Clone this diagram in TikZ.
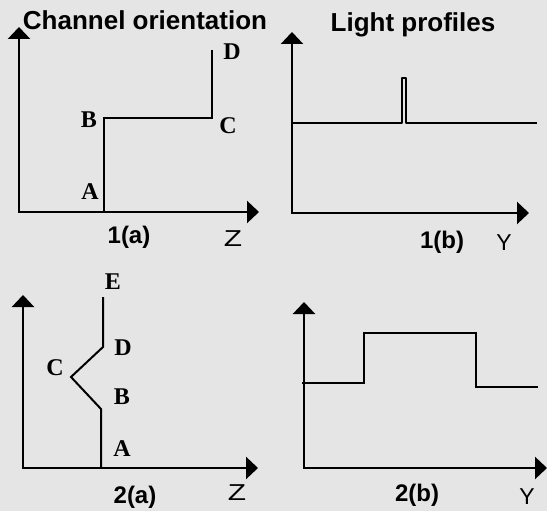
\documentclass[tikz,border=0pt]{standalone}
\usepackage{fontspec}
\setmainfont{Liberation Serif}
\setsansfont{Liberation Sans}
\usetikzlibrary{arrows.meta}

\begin{document}
\begin{tikzpicture}[x=1pt,y=-1pt,
  axis/.style={line width=2.6pt,line cap=rect,-{Triangle[length=12pt,width=22pt]}},
  trace/.style={line width=2pt},
  title/.style={font=\sffamily\bfseries\fontsize{26}{26}\selectfont,inner sep=0pt},
  tag/.style={font=\sffamily\bfseries\fontsize{24}{24}\selectfont,inner sep=0pt},
  axlab/.style={font=\sffamily\fontsize{23}{23}\selectfont,inner sep=0pt},
  pt/.style={font=\rmfamily\bfseries\fontsize{24}{24}\selectfont,inner sep=0pt}]
  \fill[black!10] (0,0) rectangle (547,511);
  \useasboundingbox (0,0) rectangle (547,511);
  % 1(a): channel orientation, straight then offset
  \coordinate (o1a) at (19,212);
  \coordinate (v1a) at (19,27);
  \coordinate (h1a) at (259,212);
  \draw[axis] (o1a) -- (v1a);
  \draw[axis] (o1a) -- (h1a);
  \draw[trace] (104,212) -- (104,118) -- (212,118) -- (212,50);
  \foreach \p/\x/\y in {A/90/192,B/89/120,C/228/126,D/232/52}
    \node[pt] (a1\p) at (\x,\y) {\p};
  \node[title] (t1a) at (145,20) {Channel orientation};
  \node[tag] (n1a) at (129,237) {1(a)};
  \node[axlab,xscale=1.3] (z1a) at (233,239) {Z};
  % 1(b): flat profile with one narrow peak
  \coordinate (o1b) at (292,213);
  \coordinate (v1b) at (292,32);
  \coordinate (h1b) at (529,213);
  \draw[axis] (o1b) -- (v1b);
  \draw[axis] (o1b) -- (h1b);
  \draw[trace,line join=round] (292,123) -- (402,123) -- (402,78)
    -- (406,78) -- (406,123) -- (537,123);
  \node[title] (t1b) at (413,25) {Light profiles};
  \node[tag] (n1b) at (442,242) {1(b)};
  \node[axlab] (y1b) at (504,243) {Y};
  % 2(a): channel with a kink C between B and D
  \coordinate (o2a) at (23,468);
  \coordinate (v2a) at (23,295);
  \coordinate (h2a) at (258,468);
  \draw[axis] (o2a) -- (v2a);
  \draw[axis] (o2a) -- (h2a);
  \draw[trace] (101,468) -- (101,409) -- (71,377) -- (103,347) -- (103,297);
  \foreach \p/\x/\y in {A/122/449,B/122/397,C/55/368,D/123/348,E/113/282}
    \node[pt] (a2\p) at (\x,\y) {\p};
  \node[tag] (n2a) at (135,497) {2(a)};
  \node[axlab,xscale=1.3] (z2a) at (237,493) {Z};
  % 2(b): wide raised step
  \coordinate (o2b) at (304,468);
  \coordinate (v2b) at (304,302);
  \coordinate (h2b) at (547,468);
  \draw[axis] (o2b) -- (v2b);
  \draw[axis] (o2b) -- (h2b);
  \draw[trace] (302,383) -- (364,383) -- (364,333) -- (476,333)
    -- (476,387) -- (538,387);
  \node[tag] (n2b) at (417,495) {2(b)};
  \node[axlab] (y2b) at (527,497) {Y};
\end{tikzpicture}
\end{document}
